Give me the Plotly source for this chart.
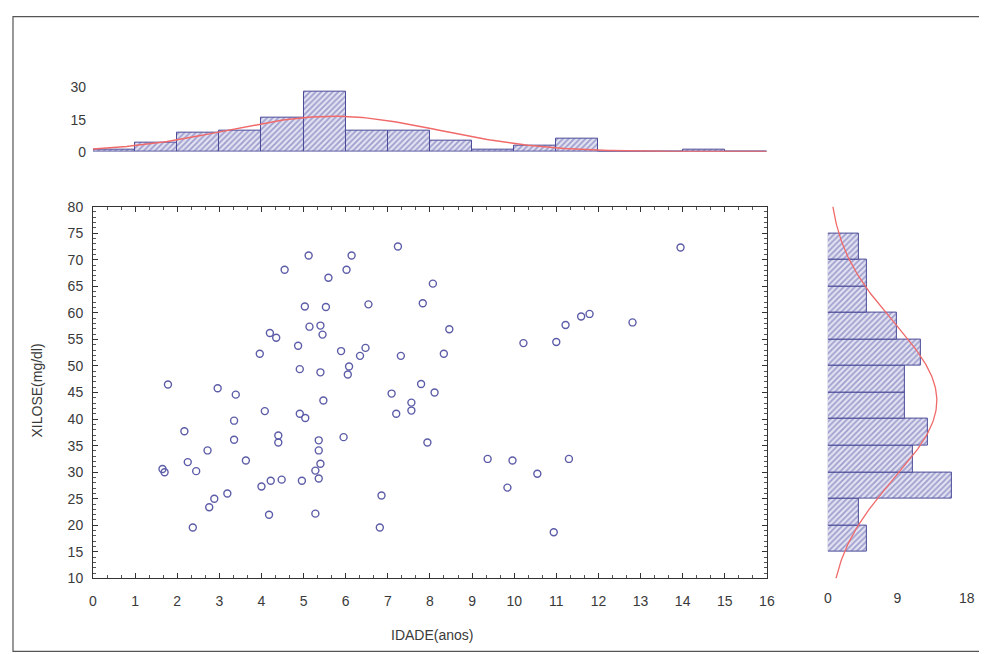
import math
import plotly.graph_objects as go

# ---------------- data ----------------
idade = [5.12, 4.55, 5.59, 5.03, 5.53, 5.14, 5.40, 5.45, 4.20, 4.35, 4.87, 3.96, 4.91, 5.40,
         1.78, 2.96, 7.24, 6.14, 6.02, 8.07, 7.83, 6.54, 8.46, 5.89, 6.34, 6.47, 7.31, 8.33,
         6.08, 6.05, 7.79, 8.11, 13.95, 11.22, 11.59, 11.79, 12.81, 10.22, 11.00, 3.39, 4.08,
         4.91, 5.04, 5.47, 3.35, 3.35, 2.17, 4.40, 4.40, 5.36, 5.36, 2.72, 3.63, 2.25, 2.45,
         1.70, 4.00, 4.22, 4.48, 4.96, 5.28, 5.36, 5.40, 3.19, 2.88, 2.76, 4.18, 5.28, 2.37,
         7.09, 7.20, 7.56, 7.56, 5.95, 7.94, 9.37, 9.96, 9.84, 6.85, 6.81, 11.30, 10.55, 10.94,
         1.65]
xilose = [70.8, 68.1, 66.6, 61.2, 61.1, 57.4, 57.6, 55.9, 56.2, 55.3, 53.8, 52.3, 49.4, 48.8,
          46.5, 45.8, 72.5, 70.8, 68.1, 65.5, 61.8, 61.6, 56.9, 52.8, 51.9, 53.4, 51.9, 52.3,
          49.9, 48.4, 46.6, 45.0, 72.3, 57.7, 59.3, 59.8, 58.2, 54.3, 54.5, 44.6, 41.5,
          41.0, 40.2, 43.5, 39.7, 36.1, 37.7, 36.9, 35.6, 36.0, 34.1, 34.1, 32.2, 31.9, 30.2,
          30.0, 27.3, 28.4, 28.6, 28.4, 30.3, 28.8, 31.6, 26.0, 25.0, 23.4, 22.0, 22.2, 19.6,
          44.8, 41.0, 43.1, 41.6, 36.6, 35.6, 32.5, 32.2, 27.1, 25.6, 19.6, 32.5, 29.7, 18.7,
          30.6]

# histogram of IDADE (bins of 1 year, 0..16)
idade_bin_centers = [0.5, 1.5, 2.5, 3.5, 4.5, 5.5, 6.5, 7.5, 8.5, 9.5, 10.5, 11.5, 12.5, 13.5, 14.5, 15.5]
idade_counts = [1, 4, 9, 10, 16, 28, 10, 10, 5, 1, 3, 6, 0, 0, 1, 0]
idade_bin_width = 1
idade_mean, idade_sd = 5.7, 2.5

# histogram of XILOSE (bins of 5 mg/dl, 15..75)
xilose_bin_centers = [17.5, 22.5, 27.5, 32.5, 37.5, 42.5, 47.5, 52.5, 57.5, 62.5, 67.5, 72.5]
xilose_counts = [5, 4, 16, 11, 13, 10, 10, 12, 9, 5, 5, 4]
xilose_bin_width = 5
xilose_mean, xilose_sd = 43.5, 14.7

n_total = sum(idade_counts)

x_ticks = list(range(0, 17))
y_ticks = list(range(10, 81, 5))
top_ticks = [0, 15, 30]
right_ticks = [0, 9, 18]

# ---------------- fitted normal curves ----------------
def normal_curve(lo, hi, mean, sd, n, width, steps=200):
    xs = [lo + (hi - lo) * i / steps for i in range(steps + 1)]
    ys = [n * width / (sd * math.sqrt(2 * math.pi)) * math.exp(-0.5 * ((v - mean) / sd) ** 2) for v in xs]
    return xs, ys

cx, cy = normal_curve(0, 16, idade_mean, idade_sd, n_total, idade_bin_width)
ry, rx = normal_curve(10, 80, xilose_mean, xilose_sd, n_total, xilose_bin_width)

# layout helpers: map window-pixel positions to paper fractions
W, H = 987, 654
AX, BX = 0.988, 12.0
AY, BY = 0.976, 15.3
def px(v):
    return min(max((v - BX) / AX / W, 0), 1)
def py(v):
    return min(max(1 - (v - BY) / AY / H, 0), 1)

FONT = "Liberation Sans, Arial, sans-serif"
TXT = "#3a3a3a"
BAR_LINE = "#4a4a98"
PATTERN = dict(shape="/", fgcolor="#5a5aaa", bgcolor="#e2e2f2", size=4, solidity=0.45)
CURVE = "#f06a6a"

fig = go.Figure()

# scatter
fig.add_trace(go.Scatter(
    x=idade, y=xilose, mode="markers",
    marker=dict(symbol="circle-open", size=7, color="#5c5ca8", line=dict(width=1.4)),
    xaxis="x", yaxis="y", showlegend=False, hoverinfo="x+y"))

# top histogram
fig.add_trace(go.Bar(
    x=idade_bin_centers, y=idade_counts, width=idade_bin_width,
    marker=dict(color="#e2e2f2", line=dict(color=BAR_LINE, width=1), pattern=PATTERN),
    xaxis="x2", yaxis="y2", showlegend=False))
fig.add_trace(go.Scatter(
    x=cx, y=cy, mode="lines", line=dict(color=CURVE, width=1.5),
    xaxis="x2", yaxis="y2", showlegend=False, hoverinfo="skip"))

# right histogram
fig.add_trace(go.Bar(
    y=xilose_bin_centers, x=xilose_counts, width=xilose_bin_width, orientation="h",
    marker=dict(color="#e2e2f2", line=dict(color=BAR_LINE, width=1), pattern=PATTERN),
    xaxis="x3", yaxis="y3", showlegend=False))
fig.add_trace(go.Scatter(
    x=rx, y=ry, mode="lines", line=dict(color=CURVE, width=1.3),
    xaxis="x3", yaxis="y3", showlegend=False, hoverinfo="skip"))

tickfont = dict(family=FONT, size=14, color=TXT)
main_dom_x = [px(93), px(767)]
main_dom_y = [py(578), py(206)]

fig.update_layout(
    width=W, height=H,
    margin=dict(l=0, r=0, t=0, b=0),
    paper_bgcolor="white", plot_bgcolor="rgba(0,0,0,0)",
    bargap=0,
    font=dict(family=FONT, size=14, color=TXT),
    xaxis=dict(domain=main_dom_x, range=[0, 16], tickvals=x_ticks, anchor="y",
               showline=True, linecolor="#333333", linewidth=1, mirror="ticks",
               ticks="inside", ticklen=5, tickcolor="#333333", showgrid=False, zeroline=False,
               minor=dict(dtick=1 / 3, ticks="inside", ticklen=3, tickcolor="#555555", showgrid=False),
               tickfont=tickfont, ticklabelstandoff=10),
    yaxis=dict(domain=main_dom_y, range=[10, 80], tickvals=y_ticks, anchor="x",
               showline=True, linecolor="#333333", linewidth=1, mirror="ticks",
               ticks="inside", ticklen=5, tickcolor="#333333", showgrid=False, zeroline=False,
               minor=dict(dtick=1, ticks="inside", ticklen=3, tickcolor="#555555", showgrid=False),
               tickfont=tickfont, ticklabelstandoff=6),
    xaxis2=dict(domain=main_dom_x, range=[0, 16], anchor="y2", visible=False),
    yaxis2=dict(domain=[py(151), py(82)], range=[0, 32.3], anchor="x2", tickvals=top_ticks,
                showline=False, showgrid=False, zeroline=False, ticks="",
                tickfont=tickfont, ticklabelstandoff=6),
    xaxis3=dict(domain=[px(828), px(828 + 19.5 * 7.722)], range=[0, 19.5], anchor="y3",
                tickvals=right_ticks, showline=False, showgrid=False, zeroline=False, ticks="",
                tickfont=tickfont, ticklabelstandoff=10),
    yaxis3=dict(domain=main_dom_y, range=[10, 80], anchor="x3", visible=False),
    shapes=[dict(type="rect", xref="paper", yref="paper",
                 x0=px(13), x1=px(985), y0=py(651), y1=py(16),
                 line=dict(color="#555555", width=1.2))],
    annotations=[
        dict(text="IDADE(anos)", xref="paper", yref="paper", x=px(432), y=py(635),
             xanchor="center", yanchor="middle",
             showarrow=False, font=dict(family=FONT, size=14, color=TXT)),
        dict(text="XILOSE(mg/dl)", xref="paper", yref="paper", x=px(37), y=py(390),
             xanchor="center", yanchor="middle",
             showarrow=False, textangle=-90, font=dict(family=FONT, size=14, color=TXT)),
    ],
)

fig.write_html("out.html")
